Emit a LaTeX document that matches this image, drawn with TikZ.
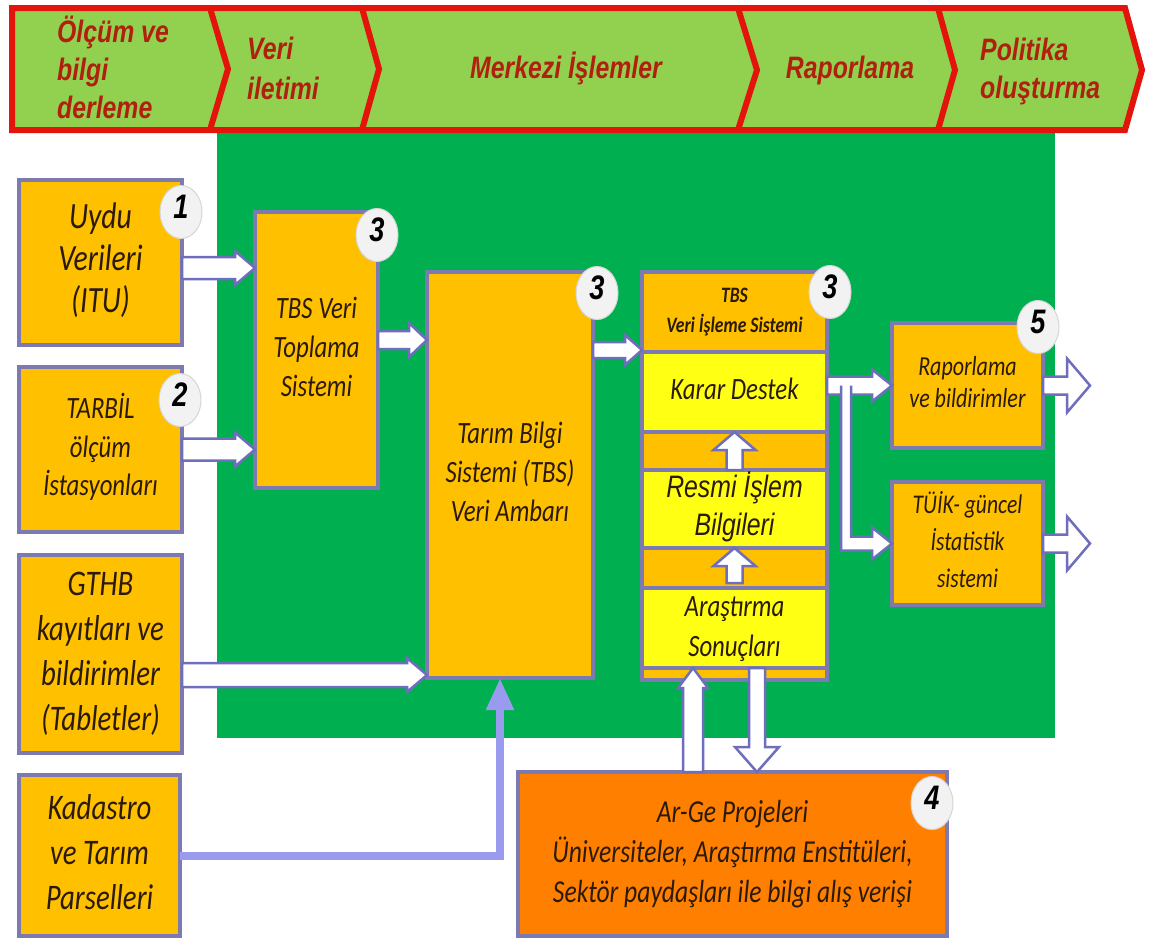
\documentclass[tikz,border=0pt]{standalone}
\usepackage{fontspec}
\usepackage{graphicx}
\setmainfont{Carlito}
\newfontfamily\arialfont{Liberation Sans}
\usetikzlibrary{calc,arrows.meta,shapes.geometric}

\definecolor{boxorange}{HTML}{FFC000}
\definecolor{boxyellow}{HTML}{FFFF14}
\definecolor{argeorange}{HTML}{FF8000}
\definecolor{bggreen}{HTML}{00B050}
\definecolor{bannerfill}{HTML}{92D050}
\definecolor{bannerred}{HTML}{E3140C}
\definecolor{bannerink}{HTML}{B0200E}
\definecolor{boxline}{HTML}{7C7AB0}
\definecolor{arrowline}{HTML}{6E6EBC}
\definecolor{kadline}{HTML}{9A9AEE}
\definecolor{inkbrown}{HTML}{2B1A08}
\definecolor{circlefill}{HTML}{F2F2F2}
\definecolor{circleedge}{HTML}{D6D6D6}

% narrow set text: centred and left aligned stacks
\newcommand\nc[1]{\scalebox{0.8}[1]{\begin{tabular}{@{}c@{}}#1\end{tabular}}}
\newcommand\nl[1]{\scalebox{0.8}[1]{\begin{tabular}{@{}l@{}}#1\end{tabular}}}
\newcommand\fsz[2]{\fontsize{#1}{#2}\selectfont}

\tikzset{
  box/.style={draw=boxline, line width=4pt, fill=boxorange, anchor=north west,
    outer sep=0pt, inner sep=0pt, text=inkbrown},
  bannertext/.style={text=bannerink, inner sep=0pt,
    font=\arialfont\bfseries\itshape\fsz{31}{38}},
  blockarrow/.style={fill=white, draw=arrowline, line width=2.5pt, line join=miter},
  numcirc/.style={ellipse, fill=circlefill, draw=circleedge, line width=1pt,
    minimum width=42pt, minimum height=53pt, inner sep=0pt, text=black,
    font=\arialfont\bfseries\itshape\fsz{34}{34}},
  kadastroline/.style={draw=kadline, line width=8pt,
    -{Triangle[width=26pt,length=32pt]}}
}

% block arrows: #1 start, #2 end, #3 half shaft, #4 half head, #5 head length
\newcommand\fatR[5]{\filldraw[blockarrow] let \p1=#1, \p2=#2 in
  (\x1,\y1+#3) -- (\x2-#5,\y1+#3) -- (\x2-#5,\y1+#4) -- (\x2,\y1)
  -- (\x2-#5,\y1-#4) -- (\x2-#5,\y1-#3) -- (\x1,\y1-#3) -- cycle;}
\newcommand\fatU[5]{\filldraw[blockarrow] let \p1=#1, \p2=#2 in
  (\x1-#3,\y1) -- (\x1-#3,\y2-#5) -- (\x1-#4,\y2-#5) -- (\x1,\y2)
  -- (\x1+#4,\y2-#5) -- (\x1+#3,\y2-#5) -- (\x1+#3,\y1) -- cycle;}
\newcommand\fatD[5]{\filldraw[blockarrow] let \p1=#1, \p2=#2 in
  (\x1-#3,\y1) -- (\x1-#3,\y2+#5) -- (\x1-#4,\y2+#5) -- (\x1,\y2)
  -- (\x1+#4,\y2+#5) -- (\x1+#3,\y2+#5) -- (\x1+#3,\y1) -- cycle;}

\begin{document}
\begin{tikzpicture}[x=1pt,y=-1pt]
\useasboundingbox (0,0) rectangle (1151,940);
\fill[white] (0,0) rectangle (1151,940);

% green working area
\fill[bggreen] (217,133) rectangle (1055,738);

% process banner
\filldraw[fill=bannerfill, draw=bannerred, line width=6pt, line join=miter]
  (12,8) -- (1125,8) -- (1142,70) -- (1125,130) -- (12,130) -- cycle;
\draw[bannerred, line width=6pt, line join=miter]
  (210,8) -- (228,69) -- (210,130)
  (362,8) -- (379,69) -- (362,130)
  (738,8) -- (757,70) -- (738,130)
  (938,8) -- (955,70) -- (938,130);
\node[bannertext, anchor=west] (b1) at (57,73) {\nl{Ölçüm ve\\bilgi\\derleme}};
\node[bannertext, anchor=west, font=\arialfont\bfseries\itshape\fsz{31}{40}] (b2) at (247,71) {\nl{Veri\\iletimi}};
\node[bannertext] (b3) at (566,71) {\nc{Merkezi İşlemler}};
\node[bannertext] (b4) at (850,71) {\nc{Raporlama}};
\node[bannertext, anchor=west] (b5) at (980,72) {\nl{Politika\\oluşturma}};

% data sources
\node[box, minimum width=163pt, minimum height=165pt,
  font=\itshape\fsz{37}{42}] (uydu) at (19,180) {\nc{Uydu\\Verileri\\(ITU)}};
\node[box, minimum width=163pt, minimum height=165pt,
  font=\itshape\fsz{31}{38.5}] (tarbil) at (19,367) {\nc{TARBİL\\ölçüm\\İstasyonları}};
\node[box, minimum width=163pt, minimum height=198pt,
  font=\itshape\fsz{36}{45}] (gthb) at (19,555) {\nc{GTHB\\kayıtları ve\\bildirimler\\(Tabletler)}};
\node[box, minimum width=161pt, minimum height=161pt,
  font=\itshape\fsz{36}{45}] (kadastro) at (19,775) {\nc{Kadastro\\ve Tarım\\Parselleri}};

% central processing
\node[box, minimum width=123pt, minimum height=276pt,
  font=\itshape\fsz{31}{39}] (toplama) at (255,212) {\nc{TBS Veri\\Toplama\\Sistemi}};
\node[box, minimum width=166pt, minimum height=406pt,
  font=\itshape\fsz{31}{39}] (ambar) at (427,272) {\nc{Tarım Bilgi\\Sistemi (TBS)\\Veri Ambarı}};

\node[box, minimum width=185pt, minimum height=408pt] (isleme) at (642,272) {};
\node[box, minimum width=185pt, minimum height=78pt, draw=none, fill=none,
  font=\bfseries\itshape\fsz{22}{30}] (header) at (642,272) {\nc{TBS\\Veri İşleme Sistemi}};
\node[box, fill=boxyellow, minimum width=185pt, minimum height=80pt,
  font=\itshape\fsz{31}{38}] (karar) at (642,352) {\nc{Karar Destek}};
\node[box, fill=boxyellow, minimum width=185pt, minimum height=78pt,
  font=\arialfont\itshape\fsz{31}{38}] (resmi) at (642,470) {\nc{Resmi İşlem\\Bilgileri}};
\node[box, fill=boxyellow, minimum width=185pt, minimum height=77pt,
  font=\itshape\fsz{31}{40}] (arastirma) at (642,588) {\nc{Araştırma\\Sonuçları}};

% reporting
\node[box, minimum width=151pt, minimum height=125pt,
  font=\itshape\fsz{27.5}{32}] (rapor) at (892,323) {\nc{Raporlama\\ve bildirimler}};
\node[box, minimum width=151pt, minimum height=123pt,
  font=\itshape\fsz{27}{37}] (tuik) at (892,482) {\nc{TÜİK- güncel\\İstatistik\\sistemi}};

% research projects
\node[box, fill=argeorange, minimum width=429pt, minimum height=164pt,
  font=\itshape\fsz{32}{40}] (arge) at (518,772)
  {\nc{Ar-Ge Projeleri\\Üniversiteler, Araştırma Enstitüleri,\\Sektör paydaşları ile bilgi alış verişi}};

% helper coordinates for connector ends
\coordinate (xup) at (693,0);
\coordinate (xdn) at (757,0);
\coordinate (raporout) at (1090,385.5);
\coordinate (tuikout) at (1090,543.5);

% connectors
\fatR{([yshift=-5.5pt]uydu.east)}{(toplama.west)}{11pt}{17pt}{20pt}
\fatR{(tarbil.east)}{(toplama.west)}{11pt}{17pt}{20pt}
\fatR{([yshift=10pt]toplama.east)}{(ambar.west)}{9pt}{17pt}{18pt}
\fatR{([yshift=-21pt]gthb.east)}{(ambar.west)}{12pt}{17pt}{20pt}
\fatR{(ambar.east |- header.south)}{(isleme.west)}{8pt}{15pt}{17pt}
\draw[kadastroline] (kadastro.east) -| ([xshift=-10pt]ambar.south);

\fatU{(resmi.north)}{(karar.south)}{8pt}{21pt}{18pt}
\fatU{([yshift=5pt]arastirma.north)}{(resmi.south)}{8pt}{21pt}{18pt}

\fatR{(karar.east |- rapor.west)}{(rapor.west)}{9pt}{16pt}{20pt}
\filldraw[blockarrow] let \p1=(karar.east), \p2=(tuik.west), \p3=(rapor.west) in
  (\x1+14pt,\y3) -- (\x1+14pt,\y2-7pt) -- (\x2-20pt,\y2-7pt) -- (\x2-20pt,\y2-16pt)
  -- (\x2,\y2) -- (\x2-20pt,\y2+16pt) -- (\x2-20pt,\y2+7pt) -- (\x1+24pt,\y2+7pt)
  -- (\x1+24pt,\y3);

\fatR{(rapor.east)}{(raporout)}{9pt}{27pt}{23pt}
\fatR{(tuik.east)}{(tuikout)}{9pt}{27pt}{23pt}

\fatU{(arge.north -| xup)}{(arastirma.south -| xup)}{10pt}{15pt}{20pt}
\fatD{(arastirma.south -| xdn)}{(arge.north -| xdn)}{8pt}{22pt}{25pt}

% step numbers
\node[numcirc] (n1) at (181,212) {\nc{1}};
\node[numcirc] (n2) at (180,400) {\nc{2}};
\node[numcirc] (n3a) at (377,235) {\nc{3}};
\node[numcirc] (n3b) at (597,293) {\nc{3}};
\node[numcirc] (n3c) at (830,292) {\nc{3}};
\node[numcirc] (n5) at (1038,327) {\nc{5}};
\node[numcirc] (n4) at (932,803) {\nc{4}};
\end{tikzpicture}
\end{document}
